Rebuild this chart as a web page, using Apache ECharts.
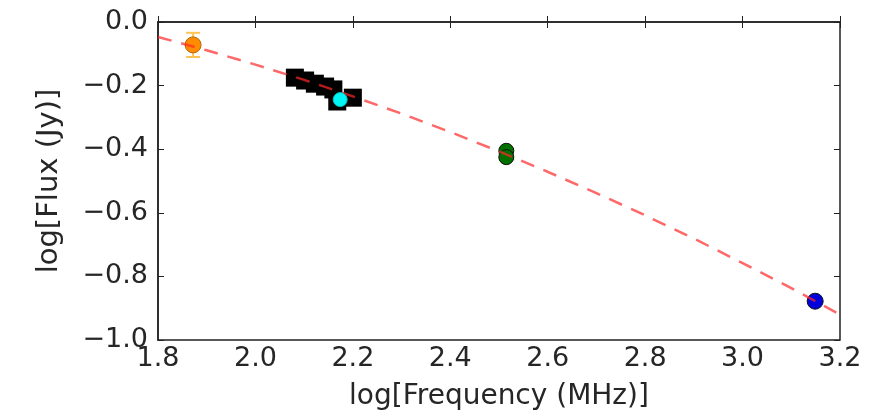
<!DOCTYPE html>
<html>
<head>
<meta charset="utf-8">
<script src="https://cdn.jsdelivr.net/npm/echarts@6/dist/echarts.min.js"></script>
<style>html,body{margin:0;padding:0;background:#fff}#c{width:871px;height:416px}</style>
</head>
<body>
<div id="c"></div>
<script>
// Data
var fitX = [1.8, 1.9, 2.0, 2.1, 2.2, 2.3, 2.4, 2.5, 2.6, 2.7, 2.8, 2.9, 3.0, 3.1, 3.2];
var fitY = [-0.047, -0.089, -0.134, -0.182, -0.234, -0.288, -0.346, -0.407, -0.471, -0.538, -0.608, -0.681, -0.758, -0.837, -0.920];
var orangeX = [1.872];
var orangeY = [-0.072];
var orangeErr = [0.038];
var squareX = [2.081, 2.102, 2.122, 2.143, 2.160, 2.168, 2.200];
var squareY = [-0.175, -0.184, -0.194, -0.203, -0.212, -0.250, -0.238];
var cyanX = [2.174];
var cyanY = [-0.244];
var greenX = [2.515, 2.515];
var greenY = [-0.405, -0.425];
var blueX = [3.149];
var blueY = [-0.878];
var xTicks = [1.8, 2.0, 2.2, 2.4, 2.6, 2.8, 3.0, 3.2];
var yTicks = [-1.0, -0.8, -0.6, -0.4, -0.2, 0.0];

function pairs(xs, ys) { return xs.map(function (x, i) { return [x, ys[i]]; }); }

var FONT = 'DejaVu Sans';
var TXT = '#262626';
function fmt(v) { return (v < 0 ? '\u2212' : '') + Math.abs(v).toFixed(1); }

var chart = echarts.init(document.getElementById('c'), null, { renderer: 'canvas' });
var tickStyle = { inside: true, length: 6, lineStyle: { color: '#222', width: 1 } };
chart.setOption({
  animation: false,
  backgroundColor: '#fff',
  grid: { left: 158, right: 31, top: 22, bottom: 74, show: true, borderColor: '#222', borderWidth: 1.5, backgroundColor: '#fff' },
  xAxis: [{
    type: 'value', min: xTicks[0], max: xTicks[xTicks.length - 1], interval: 0.2,
    name: 'log[Frequency (MHz)]', nameLocation: 'middle', nameGap: 43,
    nameTextStyle: { fontFamily: FONT, fontSize: 28, color: TXT },
    axisLine: { show: true, lineStyle: { color: '#222', width: 1.5 } },
    axisTick: tickStyle, splitLine: { show: false },
    axisLabel: { fontFamily: FONT, fontSize: 27, color: TXT, margin: 5, formatter: fmt, showMinLabel: true, showMaxLabel: true }
  }, {
    type: 'value', position: 'top', min: xTicks[0], max: xTicks[xTicks.length - 1], interval: 0.2,
    axisLine: { show: false }, axisTick: tickStyle, axisLabel: { show: false }, splitLine: { show: false }
  }],
  yAxis: [{
    type: 'value', min: yTicks[0], max: yTicks[yTicks.length - 1], interval: 0.2,
    name: 'log[Flux (Jy)]', nameLocation: 'middle', nameGap: 94, nameRotate: 90,
    nameTextStyle: { fontFamily: FONT, fontSize: 29, color: TXT },
    axisLine: { show: true, lineStyle: { color: '#222', width: 1.5 } },
    axisTick: tickStyle, splitLine: { show: false },
    axisLabel: { fontFamily: FONT, fontSize: 27, color: TXT, margin: 10, formatter: fmt, showMinLabel: true, showMaxLabel: true }
  }, {
    type: 'value', position: 'right', min: yTicks[0], max: yTicks[yTicks.length - 1], interval: 0.2,
    axisLine: { show: false }, axisTick: tickStyle, axisLabel: { show: false }, splitLine: { show: false }
  }],
  series: [
    {
      type: 'custom', z: 2,
      data: orangeX.map(function (x, i) { return [x, orangeY[i], orangeErr[i]]; }),
      renderItem: function (params, api) {
        var x = api.value(0), y = api.value(1), e = api.value(2);
        var top = api.coord([x, y + e]), bot = api.coord([x, y - e]);
        var hw = 7;
        var st = { stroke: '#ffc455', lineWidth: 2 };
        return { type: 'group', children: [
          { type: 'line', shape: { x1: top[0], y1: top[1], x2: bot[0], y2: bot[1] }, style: st },
          { type: 'line', shape: { x1: top[0] - hw, y1: top[1], x2: top[0] + hw, y2: top[1] }, style: st },
          { type: 'line', shape: { x1: bot[0] - hw, y1: bot[1], x2: bot[0] + hw, y2: bot[1] }, style: st }
        ] };
      }
    },
    { type: 'scatter', z: 3, data: pairs(orangeX, orangeY), symbol: 'circle', symbolSize: 16,
      itemStyle: { color: '#ff8c00', borderColor: '#b06a10', borderWidth: 1, opacity: 1 } },
    { type: 'scatter', z: 3, data: pairs(squareX, squareY), symbol: 'rect', symbolSize: 18,
      itemStyle: { color: '#000', borderWidth: 0, opacity: 1 } },
    { type: 'scatter', z: 3, data: pairs(greenX, greenY), symbol: 'circle', symbolSize: 15,
      itemStyle: { color: '#007000', borderColor: '#111', borderWidth: 1, opacity: 1 } },
    { type: 'scatter', z: 3, data: pairs(blueX, blueY), symbol: 'circle', symbolSize: 16,
      itemStyle: { color: '#0000dd', borderColor: '#111', borderWidth: 1, opacity: 1 } },
    { type: 'line', z: 4, data: pairs(fitX, fitY), showSymbol: false, symbol: 'none',
      lineStyle: { color: 'rgba(255,40,40,0.7)', width: 2.5, type: [14, 10] } },
    { type: 'scatter', z: 5, data: pairs(cyanX, cyanY), symbol: 'circle', symbolSize: 14,
      itemStyle: { color: '#00f5f5', borderColor: '#00c0c0', borderWidth: 1, opacity: 1 } }
  ]
});
</script>
</body>
</html>
